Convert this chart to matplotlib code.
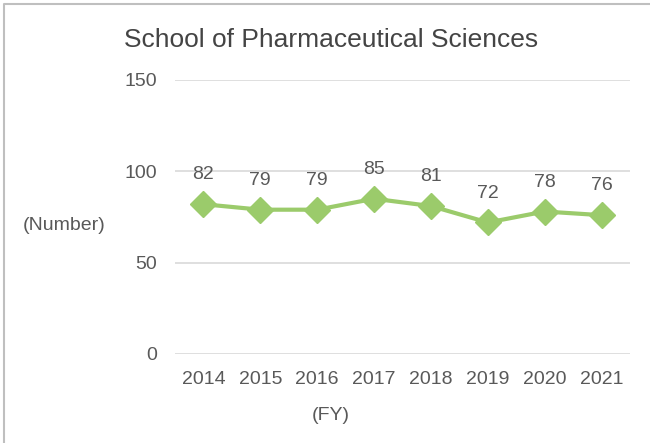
import matplotlib.pyplot as plt
from matplotlib.lines import Line2D

years = ['2014', '2015', '2016', '2017', '2018', '2019', '2020', '2021']
counts = [82, 79, 79, 85, 81, 72, 78, 76]
yticks = [0, 50, 100, 150]

plt.rcParams['font.family'] = ['Liberation Sans', 'DejaVu Sans']
txt = '#595959'

fig = plt.figure(figsize=(6.5, 4.43), dpi=100)
W, H = 650, 443
ax = fig.add_axes([175 / W, 1 - 354 / H, 455 / W, (354 - 80) / H])

x = list(range(len(years)))
ax.plot(x, counts, color='#9BCB6B', lw=3, marker='D', ms=13, zorder=3)
for xi, v in zip(x, counts):
    ax.annotate(str(v), (xi, v), xytext=(0, 15), textcoords='offset points',
                ha='center', va='bottom', fontsize=14, color=txt)

ax.set_xlim(-0.5, len(years) - 0.5)
ax.set_ylim(0, 150)
ax.set_yticks(yticks)
ax.set_xticks(x)
ax.set_xticklabels(years)
ax.tick_params(length=0, labelsize=14, labelcolor=txt)
ax.tick_params(axis='y', pad=13)
ax.tick_params(axis='x', pad=12)
ax.grid(axis='y', color='#D9D9D9', lw=1.2)
ax.set_axisbelow(True)
for s in ax.spines.values():
    s.set_visible(False)

fig.text(331 / W, 1 - 40 / H, 'School of Pharmaceutical Sciences', ha='center', va='center',
         fontsize=19, color='#444444')
fig.text(64 / W, 1 - 226 / H, '(Number)', ha='center', va='center', fontsize=14, color=txt)
fig.text(331 / W, 1 - 415 / H, '(FY)', ha='center', va='center', fontsize=14, color=txt)

# outer frame: only top and left edges are visible in the crop
fig.lines.append(Line2D([4 / W, 4 / W, 1], [0, 1 - 4 / H, 1 - 4 / H], transform=fig.transFigure,
                        color='#BFBFBF', lw=1.5))

fig.savefig('out.png', dpi=100)
